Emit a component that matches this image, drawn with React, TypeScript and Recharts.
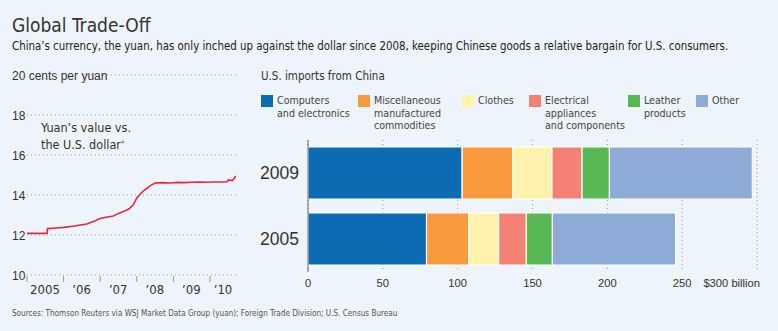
import { LineChart, Line, BarChart, Bar, XAxis, YAxis, CartesianGrid } from 'recharts';

const BG = '#eef4fc';
const FONT = "'DejaVu Sans Condensed', sans-serif";
const SANS = "'Liberation Sans', Arial, sans-serif";

// yuan's value, cents per yuan (x = fractional year)
const yuanDates = [
  2005.0, 2005.3, 2005.55, 2005.56, 2005.8, 2006.0, 2006.3, 2006.63, 2006.85, 2007.0, 2007.2,
  2007.36, 2007.5, 2007.63, 2007.78, 2007.9, 2008.0, 2008.12, 2008.25, 2008.38, 2008.5, 2008.7,
  2008.9, 2009.1, 2009.3, 2009.5, 2009.7, 2009.9, 2010.1, 2010.3, 2010.47, 2010.5, 2010.6,
  2010.65, 2010.71,
];
const yuanValues = [
  12.08, 12.08, 12.08, 12.32, 12.35, 12.38, 12.45, 12.55, 12.7, 12.83, 12.9,
  12.95, 13.08, 13.17, 13.3, 13.5, 13.85, 14.1, 14.3, 14.48, 14.6, 14.62,
  14.6, 14.63, 14.62, 14.64, 14.65, 14.64, 14.65, 14.65, 14.66, 14.75, 14.72,
  14.8, 14.95,
];
const yuanTicks = [10, 12, 14, 16, 18, 20];
const yearTicks = [2005, 2006, 2007, 2008, 2009, 2010];
const yearLabels: Record<number, string> = {
  2005: '2005', 2006: '’06', 2007: '’07', 2008: '’08', 2009: '’09', 2010: '’10',
};

// U.S. imports from China, $ billion
const importYears = ['2009', '2005'];
const computers = [103, 79.2];
const misc = [33.7, 28.3];
const clothes = [26.3, 19.9];
const electrical = [20.1, 18.5];
const leather = [18.3, 17.4];
const other = [95.5, 82.3];
const importTicks = [0, 50, 100, 150, 200, 250, 300];

const series = [
  { key: 'computers', label: ['Computers', 'and electronics'], color: '#0b6cb4', values: computers },
  { key: 'misc', label: ['Miscellaneous', 'manufactured', 'commodities'], color: '#f99a3e', values: misc },
  { key: 'clothes', label: ['Clothes'], color: '#fff2ad', values: clothes },
  { key: 'electrical', label: ['Electrical', 'appliances', 'and components'], color: '#f58174', values: electrical },
  { key: 'leather', label: ['Leather', 'products'], color: '#58b854', values: leather },
  { key: 'other', label: ['Other'], color: '#8eabd8', values: other },
];
const legendX = [11, 108, 212, 279, 378, 446];

const lineData = yuanDates.map((d, i) => ({ date: d, value: yuanValues[i] }));
const barData = importYears.map((y, i) => {
  const row: Record<string, string | number> = { year: y };
  series.forEach(s => { row[s.key] = s.values[i]; });
  return row;
});

const YuanTick = (props: any) => {
  const { x, y, payload } = props;
  if (payload.value === 20) {
    return (
      <g>
        <rect x={x - 16} y={y - 8} width={70} height={16} fill={BG} />
        <text x={x - 15} y={y + 4.5} fontSize={12} fill="#333" fontFamily={SANS}>20 cents per yuan</text>
      </g>
    );
  }
  return <text x={x - 15} y={y + 4.5} fontSize={12} fill="#333" fontFamily={SANS}>{payload.value}</text>;
};

const YearTick = (props: any) => {
  const { x, y, payload } = props;
  const off = payload.value === 2010 ? 13 : 18;
  return (
    <g>
      <line x1={x} x2={x} y1={y + 1} y2={y + 7} stroke="#999" />
      <text x={x + off} y={y + 19} textAnchor="middle" fontSize={13} fill="#333" fontFamily={FONT}>
        {yearLabels[payload.value]}
      </text>
    </g>
  );
};

const ImportTick = (props: any) => {
  const { x, y, payload } = props;
  const last = payload.value === 300;
  return (
    <text x={last ? x + 3 : x} y={y + 11} dy="0.35em" textAnchor={last ? 'end' : 'middle'} fontSize={11.2} fill="#333" fontFamily={SANS}>
      {last ? '$300 billion' : payload.value}
    </text>
  );
};

export default function App() {
  return (
    <div style={{ position: 'fixed', left: 0, top: 0, width: 778, height: 331, background: BG, fontFamily: FONT, color: '#333', overflow: 'hidden' }}>
      <div style={{ position: 'absolute', left: 12, top: 14, fontSize: 19, whiteSpace: 'nowrap' }}>Global Trade-Off</div>
      <div style={{ position: 'absolute', left: 12, top: 39, fontSize: 11.4, whiteSpace: 'nowrap', color: '#222' }}>
        China’s currency, the yuan, has only inched up against the dollar since 2008, keeping Chinese goods a relative bargain for U.S. consumers.
      </div>

      <div style={{ position: 'absolute', left: 0, top: 0 }}>
        <LineChart width={250} height={300} data={lineData} margin={{ top: 75, right: 14, bottom: 0, left: 11 }}>
          <CartesianGrid vertical={false} stroke="#999" strokeDasharray="1 3" />
          <XAxis dataKey="date" type="number" domain={[2005, 2010.71]} ticks={yearTicks} interval={0} allowDataOverflow
            axisLine={false} tickLine={false} tickSize={0} tickMargin={0} height={25} tick={<YearTick />} />
          <YAxis type="number" domain={[10, 20]} ticks={yuanTicks} interval={0} width={16} axisLine={false} tickLine={false}
            tickSize={0} tickMargin={0} tick={<YuanTick />} />
          <Line dataKey="value" stroke="#e8273c" strokeWidth={1.6} dot={false} isAnimationActive={false} />
        </LineChart>
      </div>
      <div style={{ position: 'absolute', left: 41, top: 120, fontSize: 12.5, lineHeight: '16.5px', whiteSpace: 'nowrap' }}>
        Yuan’s value vs.<br />the U.S. dollar<span style={{ fontSize: 8, verticalAlign: 'top', color: '#666' }}>*</span>
      </div>

      <div style={{ position: 'absolute', left: 261, top: 69, fontSize: 11.5, whiteSpace: 'nowrap' }}>U.S. imports from China</div>
      {series.map((s, i) => (
        <div key={s.key} style={{ position: 'absolute', left: 250 + legendX[i], top: 95 }}>
          <div style={{ position: 'absolute', left: 0, top: 0, width: 12, height: 12, background: s.color }} />
          <div style={{ position: 'absolute', left: 16, top: -1, fontSize: 10.6, lineHeight: '12.7px', color: '#444', whiteSpace: 'nowrap' }}>
            {s.label.map((l, j) => <div key={j}>{l}</div>)}
          </div>
        </div>
      ))}

      <div style={{ position: 'absolute', left: 250, top: 0 }}>
        <BarChart layout="vertical" width={528} height={300} data={barData} margin={{ top: 140, right: 21, bottom: 0, left: 8 }}>
          <CartesianGrid horizontal={false} stroke="#999" strokeDasharray="1 3" />
          <XAxis type="number" domain={[0, 300]} ticks={importTicks} interval={0} axisLine={false} tickLine={false}
            tickSize={0} tickMargin={0} height={28} tick={<ImportTick />} />
          <YAxis type="category" dataKey="year" width={50} axisLine={{ stroke: '#666' }} tickLine={false}
            tickSize={0} tickMargin={9} tick={{ fontSize: 17.5, fill: '#333', fontFamily: SANS }} />
          {series.map(s => (
            <Bar key={s.key} dataKey={s.key} stackId="a" fill={s.color} stroke="#fff" strokeWidth={1.2}
              barSize={52} isAnimationActive={false} />
          ))}
        </BarChart>
      </div>

      <div style={{ position: 'absolute', left: 12, top: 308, fontSize: 8.1, color: '#555', whiteSpace: 'nowrap' }}>
        Sources: Thomson Reuters via WSJ Market Data Group (yuan); Foreign Trade Division; U.S. Census Bureau
      </div>
    </div>
  );
}
